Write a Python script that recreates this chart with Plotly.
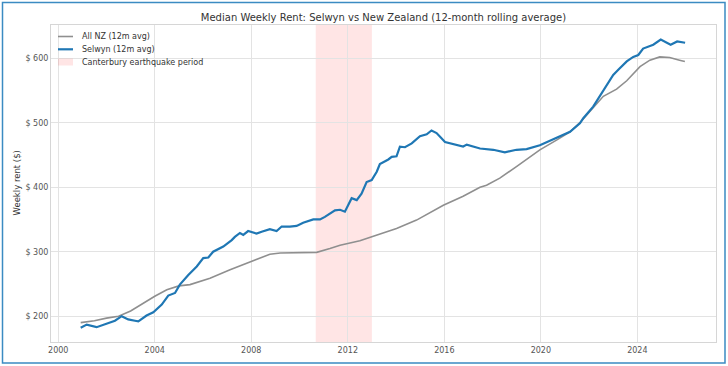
import plotly.graph_objects as go

# ---------------- data ----------------
nz_years = [2000.93, 2001.50, 2002.00, 2002.50, 2003.00, 2003.50, 2004.00, 2004.50,
            2005.00, 2005.46, 2006.29, 2007.12, 2007.94, 2008.77, 2009.20, 2009.60,
            2010.20, 2010.71, 2011.26, 2011.68, 2012.50, 2013.05, 2014.02, 2014.85,
            2015.40, 2015.96, 2016.78, 2017.48, 2017.75, 2018.30, 2018.99, 2019.96,
            2020.65, 2021.21, 2021.62, 2022.31, 2022.59, 2023.14, 2023.56, 2024.11,
            2024.52, 2024.93, 2025.34, 2025.75, 2025.97]
nz_rent = [190, 193, 197, 200, 208, 220, 231, 241,
           247, 249, 259, 272, 284, 296, 298, 298,
           298, 299, 305, 310, 317, 324, 336, 349,
           361, 372, 386, 400, 403, 414, 432, 458,
           473, 486, 500, 530, 541, 552, 565, 587,
           597, 602, 601, 597, 595]

selwyn_years = [2000.93, 2001.18, 2001.59, 2002.01, 2002.35, 2002.63, 2002.90, 2003.18,
                2003.32, 2003.66, 2003.94, 2004.29, 2004.56, 2004.84, 2005.04, 2005.39,
                2005.74, 2006.01, 2006.22, 2006.42, 2006.84, 2007.19, 2007.32, 2007.53,
                2007.67, 2007.87, 2008.22, 2008.43, 2008.77, 2009.05, 2009.26, 2009.60,
                2009.88, 2010.15, 2010.57, 2010.85, 2011.05, 2011.47, 2011.68, 2011.88,
                2012.02, 2012.16, 2012.37, 2012.57, 2012.78, 2012.99, 2013.20, 2013.33,
                2013.68, 2013.82, 2014.02, 2014.16, 2014.37, 2014.65, 2014.99, 2015.27,
                2015.47, 2015.68, 2016.03, 2016.51, 2016.78, 2016.93, 2017.48, 2018.03,
                2018.51, 2018.99, 2019.41, 2019.96, 2020.65, 2021.21, 2021.62, 2021.76,
                2022.17, 2022.59, 2023.00, 2023.21, 2023.56, 2023.83, 2024.04, 2024.24,
                2024.66, 2024.97, 2025.38, 2025.65, 2025.98]
selwyn_rent = [182, 187, 183, 188, 193, 200, 195, 193,
               192, 201, 206, 218, 232, 236, 249, 264,
               277, 290, 291, 300, 308, 318, 323, 329,
               326, 332, 328, 331, 335, 332, 339, 339,
               340, 345, 350, 350, 354, 364, 365, 362,
               372, 383, 380, 390, 408, 411, 424, 436,
               443, 447, 448, 463, 462, 468, 479, 482,
               488, 484, 470, 465, 463, 466, 460, 458,
               454, 458, 459, 465, 476, 486, 499, 507,
               525, 550, 574, 582, 595, 602, 605, 615,
               621, 629, 621, 626, 624]

quake_start = 2010.67
quake_end = 2013.0

x_ticks = [2000, 2004, 2008, 2012, 2016, 2020, 2024]
x_tick_labels = ["2000", "2004", "2008", "2012", "2016", "2020", "2024"]
y_ticks = [200, 300, 400, 500, 600]
y_tick_labels = ["$ 200", "$ 300", "$ 400", "$ 500", "$ 600"]

title_text = "Median Weekly Rent: Selwyn vs New Zealand (12-month rolling average)"
y_title = "Weekly rent ($)"
legend_labels = ["All NZ (12m avg)", "Selwyn (12m avg)", "Canterbury earthquake period"]

# ---------------- styling ----------------
W, H = 728, 366
L, R, T, B = 51, 716, 25, 342  # plot area in pixels
FONT = "DejaVu Sans"
GRAY = "#8f8f8f"
BLUE = "#1f77b4"
PINK = "rgba(255,0,0,0.10)"


def px(x):
    return (x - L) / (R - L)


def py(y):
    return (B - y) / (B - T)


fig = go.Figure()
fig.add_trace(go.Scatter(x=nz_years, y=nz_rent, mode="lines", name=legend_labels[0],
                         line=dict(color=GRAY, width=1.6), showlegend=False))
fig.add_trace(go.Scatter(x=selwyn_years, y=selwyn_rent, mode="lines", name=legend_labels[1],
                         line=dict(color=BLUE, width=2.2), showlegend=False))

shapes = [
    dict(type="rect", xref="x", yref="paper", x0=quake_start, x1=quake_end, y0=0, y1=1,
         fillcolor=PINK, line=dict(width=0), layer="below"),
    # outer blue frame
    dict(type="rect", xref="paper", yref="paper", x0=px(2.5), x1=px(725), y0=py(363), y1=py(2.5),
         line=dict(color="#3b8bc2", width=1.5), fillcolor="rgba(0,0,0,0)"),
    # legend samples
    dict(type="line", xref="paper", yref="paper", x0=px(58), x1=px(73), y0=py(36.5), y1=py(36.5),
         line=dict(color=GRAY, width=1.6)),
    dict(type="line", xref="paper", yref="paper", x0=px(58), x1=px(73), y0=py(49.3), y1=py(49.3),
         line=dict(color=BLUE, width=2.2)),
    dict(type="rect", xref="paper", yref="paper", x0=px(58), x1=px(73), y0=py(65.5), y1=py(58.5),
         line=dict(width=0), fillcolor=PINK),
]

annotations = []
for label, yy in zip(legend_labels, [36.5, 49.3, 62]):
    annotations.append(dict(text=label, xref="paper", yref="paper", x=px(80), y=py(yy),
                            xanchor="left", yanchor="middle", showarrow=False,
                            font=dict(family=FONT, size=8, color="#333333")))
annotations.append(dict(text=y_title, xref="paper", yref="paper", x=px(16), y=0.5,
                        textangle=-90, xanchor="center", yanchor="middle", showarrow=False,
                        font=dict(family=FONT, size=8.5, color="#333333")))

fig.update_layout(
    width=W, height=H,
    margin=dict(l=L, r=W - R, t=T, b=H - B, pad=0),
    paper_bgcolor="white", plot_bgcolor="white",
    title=dict(text=title_text, x=(L + R) / 2 / W, xanchor="center", y=1 - 17 / H,
               yanchor="middle", font=dict(family=FONT, size=10, color="#333333")),
    shapes=shapes, annotations=annotations,
    showlegend=False,
    xaxis=dict(range=[1999.70, 2027.26], tickvals=x_ticks, ticktext=x_tick_labels,
               showgrid=True, gridcolor="#e3e3e3", gridwidth=1, zeroline=False,
               showline=True, linecolor="#d6d6d6", linewidth=1, mirror=True,
               ticks="", tickfont=dict(family=FONT, size=8, color="#555555")),
    yaxis=dict(range=[160, 651.5], tickvals=y_ticks, ticktext=y_tick_labels,
               showgrid=True, gridcolor="#e3e3e3", gridwidth=1, zeroline=False,
               showline=True, linecolor="#d6d6d6", linewidth=1, mirror=True,
               ticks="", tickfont=dict(family=FONT, size=8, color="#555555")),
)

fig.write_html("out.html",
               config={"displayModeBar": False},
               post_script="document.body.style.margin='0';document.body.style.overflow='hidden';")
